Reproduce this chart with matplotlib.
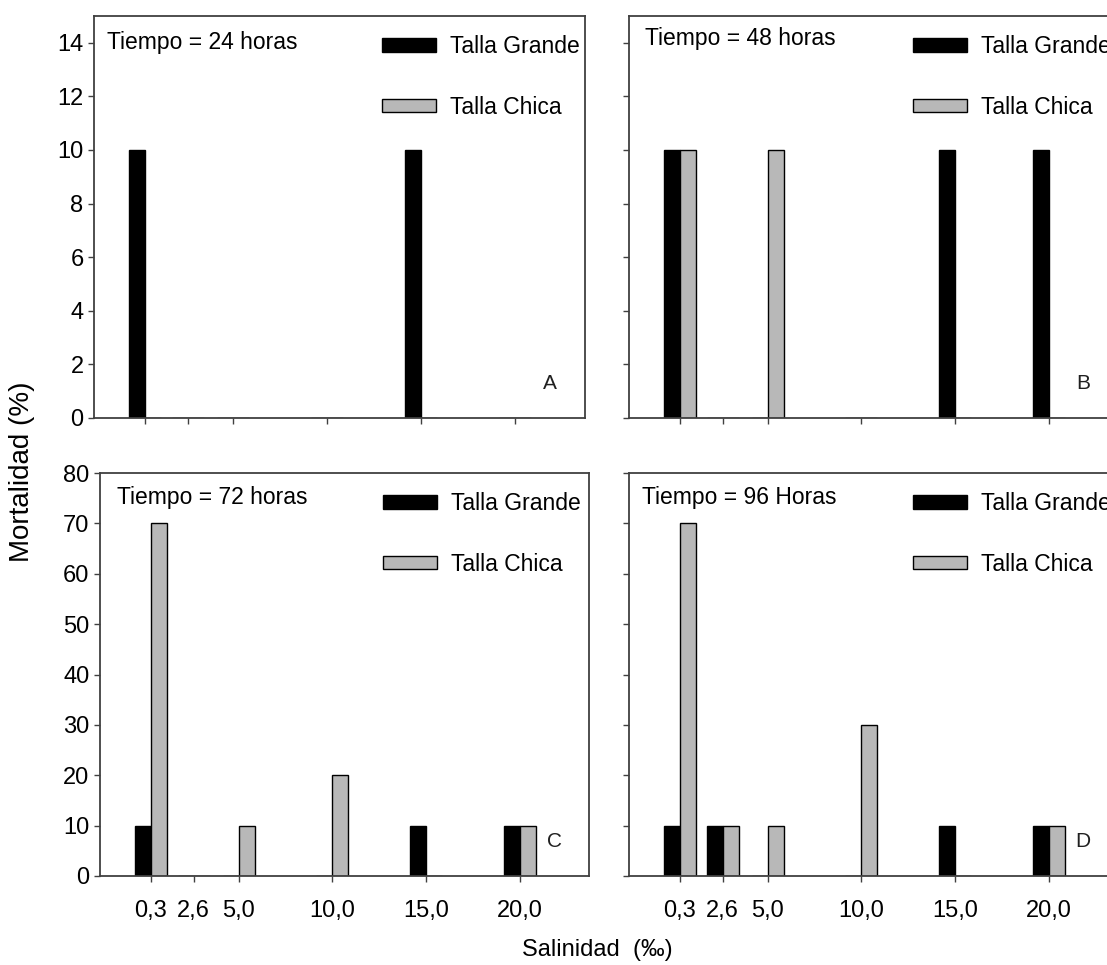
import numpy as np
import matplotlib.pyplot as plt
from matplotlib.patches import Patch

plt.rcParams['font.family'] = ['Liberation Sans', 'DejaVu Sans']
plt.rcParams['font.size'] = 16

# salinity levels (per mil) and tick labels
salinidad = [0.3, 2.6, 5.0, 10.0, 15.0, 20.0]
etiquetas = ['0,3', '2,6', '5,0', '10,0', '15,0', '20,0']

# mortality (%) per panel, large and small size classes
grande_24 = [10, 0, 0, 0, 10, 0]
chica_24 = [0, 0, 0, 0, 0, 0]
grande_48 = [10, 0, 0, 0, 10, 10]
chica_48 = [10, 0, 10, 0, 0, 0]
grande_72 = [10, 0, 0, 0, 10, 10]
chica_72 = [70, 0, 10, 20, 0, 10]
grande_96 = [10, 10, 0, 0, 10, 10]
chica_96 = [70, 10, 10, 30, 0, 10]

titulos = ['Tiempo = 24 horas', 'Tiempo = 48 horas', 'Tiempo = 72 horas', 'Tiempo = 96 Horas']
letras = ['A', 'B', 'C', 'D']

W, H = 1107, 965
fig = plt.figure(figsize=(W / 100, H / 100), dpi=100)

# axes boxes in pixels: left, top, right, bottom
cajas = [(94, 16, 585, 418), (629, 16, 1118, 418),
         (100, 473, 589, 876), (629, 473, 1118, 876)]
datos = [(grande_24, chica_24), (grande_48, chica_48),
         (grande_72, chica_72), (grande_96, chica_96)]
pos_titulo = [(0.026, 0.933), (0.033, 0.945), (0.035, 0.938), (0.027, 0.938)]
pos_leyenda = [0.587, 0.581, 0.579, 0.581]

ancho = 0.85
gris = '#b8b8b8'
eje = '#404040'

for i, ((l, t, r, b), (g, c)) in enumerate(zip(cajas, datos)):
    ax = fig.add_axes([l / W, 1 - b / H, (r - l) / W, (b - t) / H])
    ax.bar(salinidad, g, width=-ancho, align='edge', color='black',
           edgecolor='black', linewidth=1, label='Talla Grande')
    ax.bar(salinidad, c, width=ancho, align='edge', color=gris,
           edgecolor='black', linewidth=1, label='Talla Chica')
    ax.set_xlim(-2.4, 23.7)
    if i < 2:
        ax.set_ylim(0, 15)
        ax.set_yticks(range(0, 15, 2))
    else:
        ax.set_ylim(0, 80)
        ax.set_yticks(range(0, 81, 10))
    ax.set_xticks(salinidad)
    if i >= 2:
        ax.set_xticklabels(etiquetas)
    else:
        ax.set_xticklabels([])
    if i % 2 == 1:
        ax.set_yticklabels([])
    ax.tick_params(axis='x', direction='out', length=4.5, width=1,
                   color=eje, labelsize=17, pad=13)
    ax.tick_params(axis='y', direction='out', length=4.5, width=1,
                   color=eje, labelsize=17, pad=3)
    for s in ax.spines.values():
        s.set_color(eje)
        s.set_linewidth(1.3)

    ax.text(*pos_titulo[i], titulos[i], transform=ax.transAxes,
            ha='left', va='center', fontsize=16.5)
    ax.text(0.929, 0.086, letras[i], transform=ax.transAxes,
            ha='center', va='center', fontsize=15, color='#202020')

    handles = [Patch(facecolor='black', edgecolor='black', linewidth=1),
               Patch(facecolor=gris, edgecolor='black', linewidth=1)]
    ax.legend(handles, ['Talla Grande', 'Talla Chica'], loc='upper left',
              bbox_to_anchor=(pos_leyenda[i], 0.953), frameon=False,
              borderpad=0, borderaxespad=0, handlelength=2.34,
              handleheight=0.54, handletextpad=0.63, labelspacing=1.65,
              fontsize=16.5)

fig.text(22 / W, 1 - 472 / H, 'Mortalidad (%)', rotation=90,
         ha='center', va='center', fontsize=20)
fig.text(597 / W, 1 - 950 / H, 'Salinidad  (‰)', ha='center',
         va='center', fontsize=17)

fig.savefig('out.png', dpi=100)
